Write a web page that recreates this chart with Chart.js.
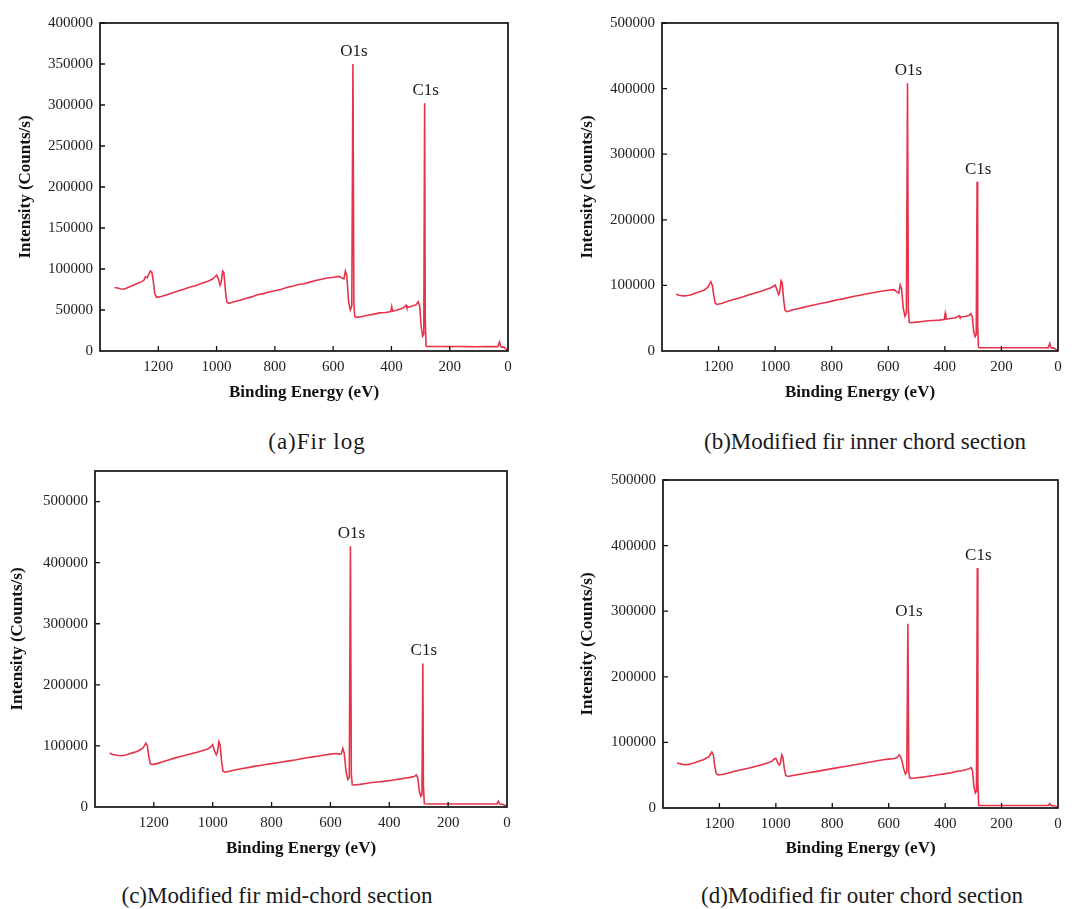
<!DOCTYPE html>
<html>
<head>
<meta charset="utf-8">
<script src="https://cdn.jsdelivr.net/npm/chart.js@4.4.1/dist/chart.umd.min.js"></script>
<style>
body{margin:0;background:#fff;}
#page{position:relative;width:1077px;height:909px;overflow:hidden;background:#fff;}
.box{position:absolute;}
.cap{position:absolute;font-family:"Liberation Serif",serif;font-size:23px;color:#1a1a1a;white-space:nowrap;transform:translate(-50%,-50%);}
</style>
</head>
<body>
<div id="page">
  <div class="box" style="left:0px;top:0px"><canvas id="chartA" width="530" height="410"></canvas></div>
  <div class="box" style="left:540px;top:0px"><canvas id="chartB" width="537" height="410"></canvas></div>
  <div class="box" style="left:0px;top:460px"><canvas id="chartC" width="530" height="406"></canvas></div>
  <div class="box" style="left:540px;top:460px"><canvas id="chartD" width="537" height="406"></canvas></div>
  <div class="cap" style="left:317px;top:442px;letter-spacing:1px">(a)Fir log</div>
  <div class="cap" style="left:865px;top:442px">(b)Modified fir inner chord section</div>
  <div class="cap" style="left:277px;top:896px">(c)Modified fir mid-chord section</div>
  <div class="cap" style="left:862px;top:896px">(d)Modified fir outer chord section</div>
</div>
<script>
// binding energy (eV), shared by all four spectra
var energy = [
  1350,1340,1330,1320,1310,1300,1290,1280,1270,1260,
  1250,1244,1238,1232,1227,1222,1217,1212,1206,1190,
  1170,1150,1130,1110,1090,1070,1050,1030,1015,1005,
  1000,994,988,984,979,975,970,965,958,940,
  920,900,880,860,840,820,800,780,760,740,
  720,700,680,660,640,620,600,580,570,563,
  558,553,547,541,536,532,529,526,520,500,
  480,460,440,420,402,399,396,380,360,350,
  347,330,315,308,303,298,293,289,286,284,
  281,278,260,230,200,170,140,110,80,50,
  35,29,26,22,15,8,3
];

// intensity (counts/s)
var firLog = [
  77500,76800,76000,75300,76500,78000,79500,81000,82600,84000,
  86000,90500,89500,94000,97500,96000,85000,70000,65500,66500,
  68500,71000,73500,75500,78000,80000,82500,85000,87500,90500,
  92500,88000,80000,84000,97500,96000,75000,60000,58000,60000,
  62000,64000,66000,68500,70000,72000,73500,75000,77500,79000,
  81000,82000,84000,86000,87500,89000,90000,91000,89000,88000,
  97500,92000,60000,50000,55000,350000,60000,42000,41000,42000,
  43500,45000,46500,47000,48000,54000,48500,50000,52500,56000,
  53000,54500,56500,60000,55000,30000,18000,20000,302000,40000,
  6000,5500,5500,5400,5300,5400,5300,5200,5300,5400,
  5200,11000,6000,4500,5000,3000,1500
];
var innerChord = [
  86500,85000,84200,84000,84500,85500,87000,88500,90000,91500,
  93000,95500,97000,102000,105500,100000,85000,73000,71000,72500,
  75500,78000,80500,83000,86000,88500,91000,94000,96500,99000,
  100500,94000,86000,90000,107000,104000,78000,62000,60000,62500,
  64500,66500,68500,70500,72500,74000,76000,78000,79500,81500,
  83500,85000,87000,88500,90000,91500,92500,93500,90000,88000,
  100500,95000,65000,53000,58000,408000,62000,44000,43000,44000,
  45000,46000,46500,47000,48000,57000,48500,49500,51000,54000,
  51500,52500,54000,57000,52000,30000,22000,25000,258000,40000,
  5500,5000,5000,5000,4900,5000,5000,4900,5000,5000,
  4800,11500,6000,4500,4800,2500,1500
];
var midChord = [
  88300,86000,85000,84200,84000,84800,86000,87500,89000,90500,
  92500,94500,96000,100500,104500,100000,82000,71000,69500,71000,
  74000,77000,80000,82500,85000,87500,90000,93000,95500,99000,
  102000,92000,85500,90000,107000,102000,75000,58500,57000,59000,
  61000,63000,64500,66500,68000,69500,71000,72500,74000,75500,
  77000,79000,80500,82000,83500,85000,86500,87500,86500,87000,
  96000,88000,58000,45000,48000,427000,55000,36500,36000,37000,
  38500,40000,41000,42000,43000,43000,43500,44500,46000,47000,
  47000,48500,50000,52500,47000,26000,17500,20000,235000,35000,
  5500,5300,5000,5000,5000,5000,4900,5000,5000,5000,
  5000,9500,5500,4500,4600,3000,1500
];
var outerChord = [
  68500,67500,66500,66000,66500,67500,68500,70000,71500,73000,
  75000,76500,78000,82000,85500,82000,65000,53500,50500,51000,
  53000,55500,57500,59500,61500,63500,66000,68500,71000,75000,
  75500,70000,65500,68000,81000,77000,60000,49500,48000,49500,
  51000,52500,54000,55500,57000,58500,60000,61500,63000,64500,
  66000,67500,69000,70500,72000,73500,74500,75500,77000,81000,
  78000,72000,60000,52000,55000,281000,56000,46000,45000,46000,
  47000,48500,49500,51000,52000,52500,52500,53500,55500,56500,
  56500,58000,60000,61500,57000,33000,23000,26000,366000,40000,
  4000,3800,3800,3800,3700,3800,3800,3700,3800,3800,
  3800,6600,4500,3500,3700,2500,1500
];

var peakNames = ['O1s', 'C1s'];
var peakEnergies = [532, 286];

// axis ticks
var xTicks = [1200, 1000, 800, 600, 400, 200, 0];
var yTicksA = [0, 50000, 100000, 150000, 200000, 250000, 300000, 350000, 400000];
var yTicksB = [0, 100000, 200000, 300000, 400000, 500000];
var yTicksC = [0, 100000, 200000, 300000, 400000, 500000];
var yTicksD = [0, 100000, 200000, 300000, 400000, 500000];
var yMax = [400000, 500000, 550000, 500000];

var lineColor = 'rgb(230,50,74)';
var tickFont = {family: '"Liberation Serif", serif', size: 15};
var titleFont = {family: '"Liberation Serif", serif', size: 17, weight: 'bold'};

// draws the closed frame, the inward tick marks and the peak names
var framePlugin = {
  id: 'frame',
  afterDraw: function(chart){
    var ctx = chart.ctx;
    var a = chart.chartArea;
    var xs = chart.scales.x;
    var ys = chart.scales.y;
    ctx.save();
    ctx.strokeStyle = '#111';
    ctx.lineWidth = 1.7;
    ctx.strokeRect(a.left, a.top, a.right - a.left, a.bottom - a.top);
    ctx.lineWidth = 1.3;
    ctx.beginPath();
    xs.ticks.forEach(function(t, i){
      if (t.value === 0) return;
      var px = xs.getPixelForTick(i);
      ctx.moveTo(px, a.bottom);
      ctx.lineTo(px, a.bottom - 5);
    });
    ys.ticks.forEach(function(t, i){
      if (t.value === 0) return;
      var py = ys.getPixelForTick(i);
      ctx.moveTo(a.left, py);
      ctx.lineTo(a.left + 5, py);
    });
    ctx.stroke();

    var pts = chart.data.datasets[0].data;
    ctx.fillStyle = '#1a1a1a';
    ctx.font = '17px "Liberation Serif", serif';
    ctx.textAlign = 'center';
    ctx.textBaseline = 'bottom';
    peakNames.forEach(function(name, k){
      var idx = energy.indexOf(peakEnergies[k]);
      var p = pts[idx];
      ctx.fillText(name, xs.getPixelForValue(p.x) + 1, ys.getPixelForValue(p.y) - 4);
    });
    ctx.restore();
  }
};

function makeChart(id, series, n, yTicks, canvasBox, area, yTitleX){
  var points = energy.map(function(e, i){ return {x: e, y: series[i]}; });
  var yw = area.l - canvasBox.x;
  var xh = canvasBox.y + canvasBox.h - area.b;

  new Chart(document.getElementById(id), {
    type: 'line',
    data: {
      datasets: [{
        data: points,
        borderColor: lineColor,
        borderWidth: 1.6,
        pointRadius: 0,
        tension: 0
      }]
    },
    options: {
      responsive: false,
      animation: false,
      layout: {padding: {left: 0, top: area.t - canvasBox.y, right: canvasBox.x + canvasBox.w - area.r, bottom: 0}},
      plugins: {legend: {display: false}, tooltip: {enabled: false}},
      scales: {
        x: {
          type: 'linear',
          reverse: true,
          min: 0,
          max: 1400,
          grid: {display: false, drawTicks: false},
          border: {display: false},
          ticks: {padding: 7, font: tickFont, color: '#222', maxRotation: 0, autoSkip: false,
            callback: function(v){ return String(v); }},
          afterBuildTicks: function(s){ s.ticks = xTicks.map(function(v){ return {value: v}; }); },
          title: {display: true, text: 'Binding Energy (eV)', font: titleFont, color: '#111', padding: {top: 0, bottom: 7}},
          afterFit: function(s){ s.height = xh; s.paddingLeft = 0; s.paddingRight = 0; }
        },
        y: {
          min: 0,
          max: yMax[n],
          grid: {display: false, drawTicks: false},
          border: {display: false},
          ticks: {padding: 7, font: tickFont, color: '#222', autoSkip: false,
            callback: function(v){ return String(v); }},
          afterBuildTicks: function(s){ s.ticks = yTicks.map(function(v){ return {value: v}; }); },
          title: {display: true, text: 'Intensity (Counts/s)', font: titleFont, color: '#111', padding: {top: yTitleX - canvasBox.x - 10, bottom: 0}},
          afterFit: function(s){ s.width = yw; s.paddingTop = 0; s.paddingBottom = 0; }
        }
      }
    },
    plugins: [framePlugin]
  });
}

makeChart('chartA', firLog, 0, yTicksA, {x: 0, y: 0, w: 530, h: 410}, {l: 100, t: 23, r: 508, b: 351}, 25);
makeChart('chartB', innerChord, 1, yTicksB, {x: 540, y: 0, w: 537, h: 410}, {l: 662, t: 23, r: 1058, b: 351}, 587);
makeChart('chartC', midChord, 2, yTicksC, {x: 0, y: 460, w: 530, h: 406}, {l: 95, t: 471, r: 507, b: 807}, 17);
makeChart('chartD', outerChord, 3, yTicksD, {x: 540, y: 460, w: 537, h: 406}, {l: 663, t: 480, r: 1058, b: 808}, 587);
</script>
</body>
</html>
